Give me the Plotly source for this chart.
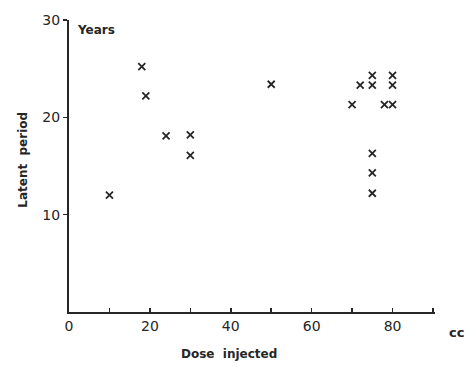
import plotly.graph_objects as go

dose_cc = [10, 18, 19, 24, 30, 30, 50, 70, 72, 75, 75, 75, 75, 75, 78, 80, 80, 80]
latent_years = [12.0, 25.2, 22.2, 18.1, 18.2, 16.1, 23.4, 21.3, 23.3, 24.3, 23.3, 16.3, 14.3, 12.2, 21.3, 24.3, 23.3, 21.3]

x_ticks = [0, 20, 40, 60, 80]
x_minor = [10, 30, 50, 70, 90]
y_ticks = [10, 20, 30]

ink = "#262626"
font_fam = "DejaVu Sans, Liberation Sans, sans-serif"

fig = go.Figure()
fig.add_trace(go.Scatter(
    x=dose_cc, y=latent_years, mode="markers",
    marker=dict(symbol="x-thin", size=7, line=dict(width=1.8, color=ink), color=ink),
    showlegend=False, cliponaxis=False, hoverinfo="skip",
))

fig.update_layout(
    width=473, height=367,
    margin=dict(l=69, r=38, t=13, b=55),
    paper_bgcolor="white", plot_bgcolor="white",
    font=dict(family=font_fam, size=13, color=ink),
    xaxis=dict(
        range=[0, 90.5], tickmode="array", tickvals=x_ticks,
        ticktext=[str(v) for v in x_ticks],
        showgrid=False, zeroline=False, showline=True, linecolor=ink, linewidth=2,
        ticks="inside", ticklen=4, tickwidth=1.5, tickcolor=ink,
        minor=dict(tickvals=x_minor, ticks="inside", ticklen=4, tickwidth=1.5, tickcolor=ink),
        tickfont=dict(size=14, family=font_fam, color=ink),
        ticklabeloverflow="allow",
        fixedrange=True,
    ),
    yaxis=dict(
        range=[0, 30], tickmode="array", tickvals=y_ticks,
        ticktext=[str(v) for v in y_ticks],
        showgrid=False, zeroline=False, showline=True, linecolor=ink, linewidth=2,
        ticks="outside", ticklen=4, tickwidth=1.5, tickcolor=ink,
        tickfont=dict(size=14, family=font_fam, color=ink),
        ticklabeloverflow="allow",
        fixedrange=True,
    ),
    annotations=[
        dict(text="<b>Years</b>", xref="paper", yref="paper", x=0.016, y=0.967,
             xanchor="left", yanchor="middle", showarrow=False, font=dict(size=12, color=ink)),
        dict(text="<b>Latent  period</b>", xref="paper", yref="paper", x=-0.128, y=0.522,
             xanchor="center", yanchor="middle", textangle=-90, showarrow=False,
             font=dict(size=12, color=ink)),
        dict(text="<b>Dose  injected</b>", xref="paper", yref="paper", x=0.437, y=-0.144,
             xanchor="center", yanchor="middle", showarrow=False, font=dict(size=12, color=ink)),
        dict(text="<b>cc</b>", xref="paper", yref="paper", x=1.060, y=-0.070,
             xanchor="center", yanchor="middle", showarrow=False, font=dict(size=13, color=ink)),
    ],
)

fig.write_html(
    "out.html",
    config={"displayModeBar": False, "staticPlot": True},
    post_script="document.body.style.margin='0';document.body.style.overflow='hidden';",
)
